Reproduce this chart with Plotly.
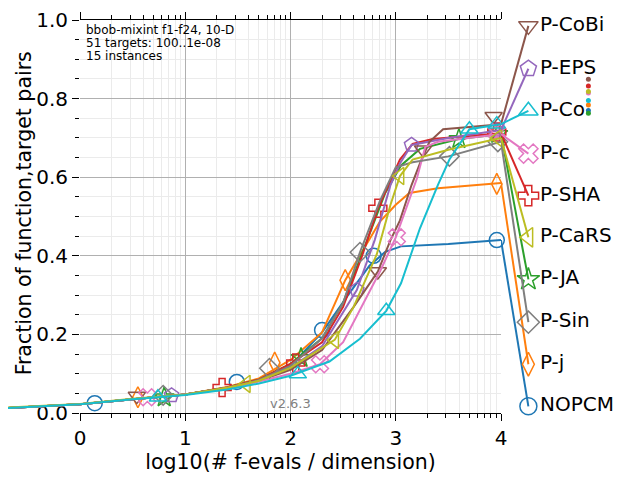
import numpy as np
import plotly.graph_objects as go

# algorithms in colour order (matplotlib tab10)
algs = ["NOPCM", "P-j", "P-JA", "P-SHA", "P-EPS", "P-CoBi", "P-c", "P-Sin", "P-CaRS", "P-Co"]
colors = ["#1f77b4", "#ff7f0e", "#2ca02c", "#d62728", "#9467bd",
          "#8c564b", "#e377c2", "#7f7f7f", "#bcbd22", "#17becf"]
symbols = ["circle-open", "diamond-tall-open", "star-open", "cross-open", "pentagon-open",
           "triangle-down-open", "x-open", "diamond-open", "triangle-left-open", "triangle-up-open"]

# ECDF curves, x = log10(#f-evals / dimension)
curve_x = {
    "NOPCM": [-0.76, 0.0, 0.5, 1.0, 1.4, 1.7, 2.0, 2.3, 2.56, 2.75, 2.9, 3.05, 3.5, 4.0],
    "P-j": [-0.76, 0.0, 0.5, 1.0, 1.4, 1.7, 2.0, 2.3, 2.52, 2.7, 2.85, 3.0, 3.13, 3.4, 4.0],
    "P-JA": [-0.76, 0.0, 0.5, 1.0, 1.4, 1.7, 2.0, 2.3, 2.5, 2.7, 2.9, 3.05, 3.23, 3.6, 4.0],
    "P-SHA": [-0.76, 0.0, 0.5, 1.0, 1.4, 1.7, 2.0, 2.3, 2.5, 2.68, 2.83, 2.96, 3.04, 3.16, 3.35, 4.0],
    "P-EPS": [-0.76, 0.0, 0.5, 1.0, 1.4, 1.7, 2.0, 2.3, 2.63, 2.8, 2.95, 3.04, 3.15, 3.5, 4.0],
    "P-CoBi": [-0.76, 0.0, 0.5, 1.0, 1.4, 1.7, 2.0, 2.3, 2.6, 2.83, 2.95, 3.04, 3.15, 3.23, 3.32, 3.45, 3.7, 4.0],
    "P-c": [-0.76, 0.0, 0.5, 1.0, 1.4, 1.7, 2.0, 2.28, 2.5, 2.66, 2.85, 3.0, 3.1, 3.2, 3.28, 3.4, 4.0],
    "P-Sin": [-0.76, 0.0, 0.5, 1.0, 1.4, 1.7, 2.0, 2.3, 2.5, 2.66, 2.85, 3.0, 3.16, 3.5, 4.0],
    "P-CaRS": [-0.76, 0.0, 0.5, 1.0, 1.4, 1.7, 2.0, 2.42, 2.6, 2.82, 2.95, 3.04, 3.16, 3.5, 4.0],
    "P-Co": [-0.76, 0.0, 0.5, 1.0, 1.4, 1.7, 2.0, 2.37, 2.66, 2.91, 3.05, 3.23, 3.4, 3.51, 3.7, 4.0],
}
curve_y = {
    "NOPCM": [0.012, 0.022, 0.035, 0.047, 0.064, 0.083, 0.12, 0.205, 0.305, 0.375, 0.41, 0.424, 0.43, 0.44],
    "P-j": [0.012, 0.022, 0.035, 0.047, 0.066, 0.088, 0.135, 0.205, 0.338, 0.42, 0.487, 0.53, 0.56, 0.572, 0.585],
    "P-JA": [0.012, 0.022, 0.035, 0.047, 0.065, 0.085, 0.125, 0.19, 0.28, 0.42, 0.56, 0.63, 0.672, 0.697, 0.71],
    "P-SHA": [0.012, 0.022, 0.035, 0.047, 0.065, 0.085, 0.125, 0.18, 0.27, 0.40, 0.52, 0.60, 0.645, 0.685, 0.697, 0.712],
    "P-EPS": [0.012, 0.022, 0.035, 0.047, 0.064, 0.082, 0.115, 0.17, 0.313, 0.44, 0.58, 0.635, 0.682, 0.70, 0.72],
    "P-CoBi": [0.012, 0.022, 0.035, 0.047, 0.064, 0.082, 0.11, 0.16, 0.27, 0.36, 0.44, 0.49, 0.58, 0.635, 0.69, 0.722, 0.728, 0.735],
    "P-c": [0.012, 0.022, 0.035, 0.047, 0.063, 0.08, 0.10, 0.124, 0.18, 0.263, 0.36, 0.447, 0.52, 0.596, 0.677, 0.69, 0.71],
    "P-Sin": [0.012, 0.022, 0.035, 0.047, 0.064, 0.084, 0.12, 0.19, 0.28, 0.409, 0.54, 0.625, 0.638, 0.653, 0.69],
    "P-CaRS": [0.013, 0.023, 0.036, 0.047, 0.064, 0.082, 0.115, 0.186, 0.27, 0.404, 0.53, 0.603, 0.645, 0.67, 0.70],
    "P-Co": [0.012, 0.022, 0.035, 0.046, 0.06, 0.075, 0.095, 0.131, 0.189, 0.26, 0.33, 0.47, 0.58, 0.645, 0.722, 0.735],
}

# marker positions along each curve
mark_x = {
    "NOPCM": [0.14, 1.49, 2.30, 2.79, 3.96],
    "P-j": [0.55, 1.85, 2.52, 3.96],
    "P-JA": [0.8, 2.1, 3.6, 3.97],
    "P-SHA": [1.35, 2.05, 2.83, 3.96],
    "P-EPS": [0.87, 2.63, 3.15, 3.95],
    "P-CoBi": [0.54, 2.83, 3.26, 3.93],
    "P-c": [0.64, 2.28, 3.01, 3.96],
    "P-Sin": [0.79, 1.80, 2.66, 3.51, 3.97],
    "P-CaRS": [1.58, 2.42, 3.04, 3.97],
    "P-Co": [0.74, 2.07, 2.91, 3.70, 3.96],
}
mark_y = {
    "NOPCM": [0.025, 0.079, 0.211, 0.40, 0.44],
    "P-j": [0.04, 0.128, 0.338, 0.583],
    "P-JA": [0.04, 0.14, 0.697, 0.71],
    "P-SHA": [0.065, 0.127, 0.521, 0.715],
    "P-EPS": [0.045, 0.313, 0.682, 0.72],
    "P-CoBi": [0.043, 0.36, 0.67, 0.755],
    "P-c": [0.04, 0.124, 0.447, 0.715],
    "P-Sin": [0.045, 0.114, 0.409, 0.653, 0.69],
    "P-CaRS": [0.074, 0.186, 0.603, 0.70],
    "P-Co": [0.04, 0.099, 0.26, 0.722, 0.735],
}

# legend label heights (right of the axes) and small end dots
label_y = {"NOPCM": 0.017, "P-j": 0.124, "P-JA": 0.340, "P-SHA": 0.553, "P-EPS": 0.876,
           "P-CoBi": 0.985, "P-c": 0.660, "P-Sin": 0.231, "P-CaRS": 0.447, "P-Co": 0.769}
label_x = 4.26
dot_x = 4.83
dot_y = {"NOPCM": 0.77, "P-j": 0.784, "P-JA": 0.763, "P-SHA": 0.832, "P-CoBi": 0.849,
         "P-c": 0.814, "P-CaRS": 0.818, "P-Co": 0.795}

info_lines = ["bbob-mixint f1-f24, 10-D", "51 targets: 100..1e-08", "15 instances"]

FONT = "DejaVu Sans"
fig = go.Figure()

for name, col, sym in zip(algs, colors, symbols):
    # main axes and the strip left of x=0
    for xa, ya in (("x", "y"), ("x2", "y3")):
        fig.add_trace(go.Scatter(x=curve_x[name], y=curve_y[name], xaxis=xa, yaxis=ya,
                                 mode="lines", line=dict(color=col, width=2),
                                 showlegend=False, hoverinfo="skip"))
    fig.add_trace(go.Scatter(x=mark_x[name], y=mark_y[name], mode="markers",
                             marker=dict(symbol=sym, size=15, color=col,
                                         line=dict(color=col, width=1.5)),
                             cliponaxis=False, showlegend=False))

for name, col, sym in zip(algs, colors, symbols):
    # line from final value to the label
    fig.add_trace(go.Scatter(x=[4.0, label_x], y=[curve_y[name][-1], label_y[name]],
                             xaxis="x3", yaxis="y4", mode="lines",
                             line=dict(color=col, width=2), showlegend=False,
                             cliponaxis=False, hoverinfo="skip"))
    fig.add_trace(go.Scatter(x=[label_x], y=[label_y[name]], xaxis="x3", yaxis="y4",
                             mode="markers+text", text=[name], textposition="middle right",
                             textfont=dict(family=FONT, size=20, color="black"),
                             marker=dict(symbol=sym, size=17, color=col,
                                         line=dict(color=col, width=1.5)),
                             cliponaxis=False, showlegend=False))
    if name in dot_y:
        fig.add_trace(go.Scatter(x=[dot_x], y=[dot_y[name]], xaxis="x3", yaxis="y4",
                                 mode="markers", marker=dict(size=5, color=col),
                                 cliponaxis=False, showlegend=False))

minor_x = [k + np.log10(m) for k in range(4) for m in range(2, 10)]

# the page has an 8px body margin, so the figure is laid out 8px up/left
off = 8
px_per_unit = 105.3
x_left = (80 - off) / 640
x_right = (501 - off) / 640
top = 12
bottom = 480 - (413 - off)

fig.update_layout(
    width=640, height=480,
    margin=dict(l=0, r=0, t=top, b=bottom),
    paper_bgcolor="white", plot_bgcolor="white",
    font=dict(family=FONT, size=20, color="black"),
    xaxis=dict(domain=[x_left, x_right], range=[0, 4], anchor="y", automargin=False,
               tickvals=[0, 1, 2, 3, 4], ticks="outside", ticklen=7, tickcolor="black",
               showline=True, linecolor="black", mirror="ticks",
               showgrid=True, gridcolor="#b0b0b0", zeroline=False,
               minor=dict(tickmode="array", tickvals=minor_x, ticks="outside", ticklen=4,
                          tickcolor="black", showgrid=True, gridcolor="#ebebeb"),
               title=dict(text="log10(# f-evals / dimension)", standoff=4,
                          font=dict(size=20.5)),
               tickfont=dict(size=20)),
    yaxis=dict(domain=[0, 1], range=[0, 1], anchor="x", automargin=False,
               tickvals=[0, 0.2, 0.4, 0.6, 0.8, 1.0], tickformat=".1f",
               ticklabeloverflow="allow",
               ticks="outside", ticklen=7, tickcolor="black", showline=False,
               showgrid=True, gridcolor="#b0b0b0", zeroline=False,
               minor=dict(dtick=0.05, ticks="outside", ticklen=4, tickcolor="black",
                          showgrid=True, gridcolor="#ebebeb"),
               tickfont=dict(size=20)),
    yaxis2=dict(overlaying="y", side="right", anchor="x", range=[0, 1], automargin=False,
                tickvals=[0, 0.2, 0.4, 0.6, 0.8, 1.0], showticklabels=False,
                ticks="outside", ticklen=5, tickcolor="black",
                showline=True, linecolor="black", linewidth=2,
                showgrid=False, zeroline=False,
                minor=dict(dtick=0.05, ticks="outside", ticklen=5, tickcolor="black")),
    xaxis2=dict(domain=[0, x_left], range=[(off - 80) / px_per_unit, 0], anchor="y3", visible=False),
    yaxis3=dict(domain=[0, 1], range=[0, 1], anchor="x2", visible=False),
    xaxis3=dict(domain=[x_right, 1], range=[4, 4 + (640 + off - 501) / px_per_unit],
                anchor="y4", visible=False),
    yaxis4=dict(domain=[0, 1], range=[0, 1], anchor="x3", visible=False),
)

# y axis title, placed like the reference
fig.add_annotation(x=(24 - off) / 640, y=0.508, xref="paper", yref="paper",
                   text="Fraction of function,target pairs", textangle=-90, showarrow=False,
                   xanchor="center", yanchor="middle", font=dict(family=FONT, size=20.5))

for i, line in enumerate(info_lines):
    fig.add_annotation(x=0.05, y=0.975 - 0.0335 * i, xref="x", yref="y",
                       text=line, showarrow=False, xanchor="left", yanchor="middle",
                       borderpad=0, font=dict(family=FONT, size=12, color="black"))

fig.add_annotation(x=2.0, y=0.025, xref="x", yref="y", text="v2.6.3", showarrow=False,
                   xanchor="center", yanchor="middle",
                   font=dict(family=FONT, size=13, color="#808080"))

fig.write_html("out.html")
